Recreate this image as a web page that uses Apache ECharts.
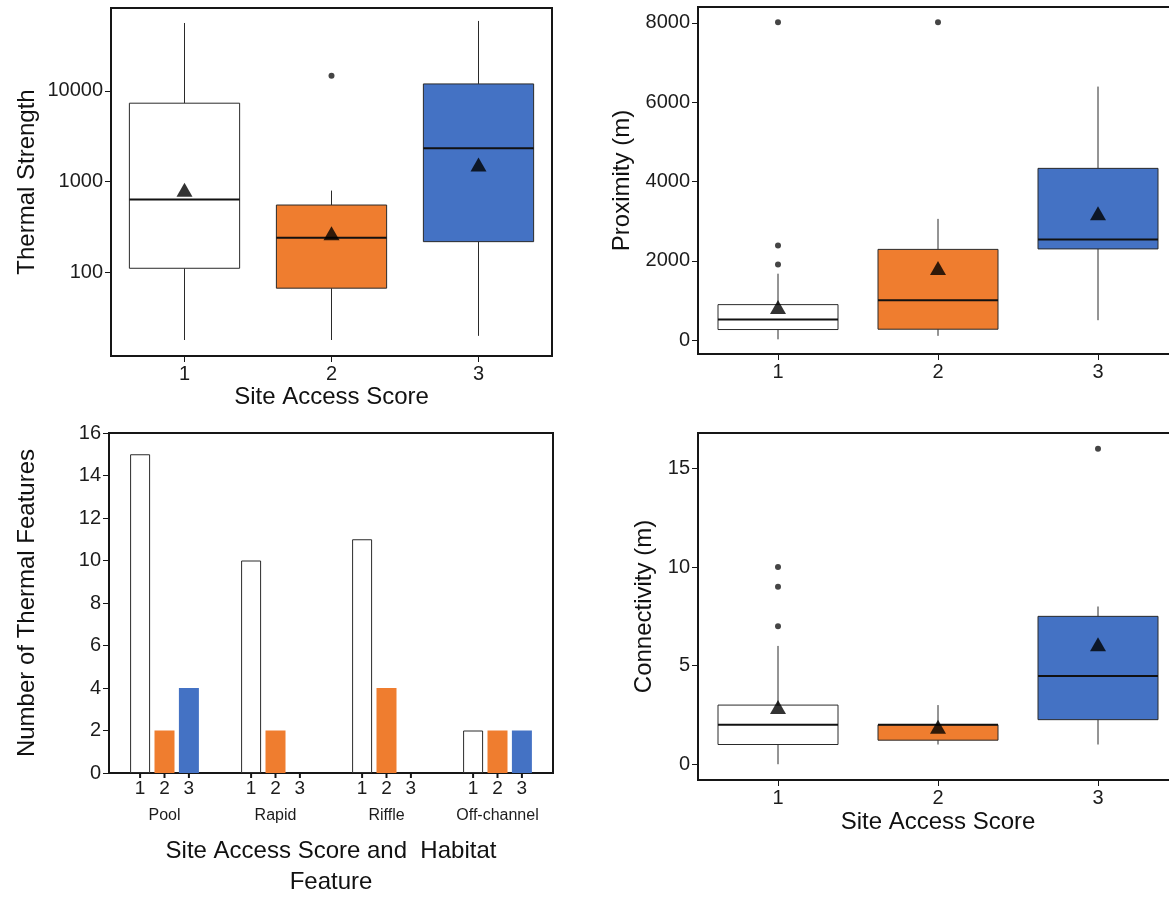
<!DOCTYPE html>
<html>
<head>
<meta charset="utf-8">
<script src="https://cdn.jsdelivr.net/npm/echarts@6/dist/echarts.min.js"></script>
<style>
  html, body { margin: 0; padding: 0; background: #ffffff; }
  #chart { width: 1169px; height: 897px; }
</style>
</head>
<body>
<div id="chart"></div>
<script>
// Site access scores shared by the three box plots
const accessScores = ['1', '2', '3'];

// Box statistics per score: [lower whisker, Q1, median, Q3, upper whisker]
const thermalBoxes = [
  [18, 111, 633, 7300, 55800],
  [18, 67, 241, 552, 796],
  [20, 218, 2330, 11900, 58800]
];
const thermalMeans = [815, 269, 1540];
const thermalOutliers = [[1, 14600]];           // [score index, value]
const thermalTicks = [100, 1000, 10000];

const proximityBoxes = [
  [20, 267, 520, 895, 1675],
  [108, 275, 1004, 2288, 3057],
  [502, 2300, 2537, 4331, 6393]
];
const proximityMeans = [837, 1820, 3200];
const proximityOutliers = [[0, 1909], [0, 2388], [0, 8018], [1, 8018]];
const proximityTicks = [0, 2000, 4000, 6000, 8000];

const connectivityBoxes = [
  [0, 1, 2, 3, 6],
  [1, 1.22, 2, 2, 3],
  [1, 2.26, 4.48, 7.5, 8]
];
const connectivityMeans = [2.9, 1.9, 6.09];
const connectivityOutliers = [[0, 7], [0, 9], [0, 10], [2, 16]];
const connectivityTicks = [0, 5, 10, 15];

// Number of thermal features by habitat, one array per access score
const habitats = ['Pool', 'Rapid', 'Riffle', 'Off-channel'];
const countsScore1 = [15, 10, 11, 2];
const countsScore2 = [2, 2, 4, 2];
const countsScore3 = [4, 0, 0, 2];

// Styling
const FONT = '"Liberation Sans", Arial, sans-serif';
const INK = '#161616';
const scoreFills = ['#ffffff', '#EF7D2F', '#4472C4'];

const chart = echarts.init(document.getElementById('chart'), null, { renderer: 'canvas' });

// Draws one box: whiskers, filled Q1–Q3 rectangle and a heavier median line
function renderBox(params, api) {
  const idx = api.value(0);
  const lo = api.coord([idx, api.value(1)]);
  const q1 = api.coord([idx, api.value(2)]);
  const md = api.coord([idx, api.value(3)]);
  const q3 = api.coord([idx, api.value(4)]);
  const hi = api.coord([idx, api.value(5)]);
  const half = api.size([1, 0], [idx, api.value(3)])[0] * 0.375;
  const x = md[0];
  const thin = { stroke: '#2a2a2a', lineWidth: 1 };
  return {
    type: 'group',
    children: [
      { type: 'line', shape: { x1: x, y1: hi[1], x2: x, y2: q3[1] }, style: thin },
      { type: 'line', shape: { x1: x, y1: q1[1], x2: x, y2: lo[1] }, style: thin },
      { type: 'rect',
        shape: { x: x - half, y: q3[1], width: half * 2, height: q1[1] - q3[1] },
        style: { fill: scoreFills[idx], stroke: '#2a2a2a', lineWidth: 1 } },
      { type: 'line', shape: { x1: x - half, y1: md[1], x2: x + half, y2: md[1] },
        style: { stroke: '#111111', lineWidth: 2 } }
    ]
  };
}

function boxData(boxes) {
  return boxes.map((b, i) => [i].concat(b));
}
function meanData(means) {
  return means.map((m, i) => [i, m]);
}

function boxSeries(axisIdx, boxes, means, outliers) {
  return [
    { type: 'custom', xAxisIndex: axisIdx, yAxisIndex: axisIdx,
      renderItem: renderBox, encode: { x: 0, y: [1, 2, 3, 4, 5] },
      data: boxData(boxes), z: 2, silent: true },
    { type: 'scatter', xAxisIndex: axisIdx, yAxisIndex: axisIdx,
      symbol: 'circle', symbolSize: 6, itemStyle: { color: INK },
      data: outliers, z: 3, silent: true },
    { type: 'scatter', xAxisIndex: axisIdx, yAxisIndex: axisIdx,
      symbol: 'triangle', symbolSize: [16, 14], itemStyle: { color: '#000000' },
      data: meanData(means), z: 4, silent: true }
  ];
}

const gridFrame = {
  show: true, borderColor: INK, borderWidth: 2, backgroundColor: 'transparent',
  outerBoundsMode: 'none', containLabel: false
};

const tickStyle = { show: true, length: 6, lineStyle: { color: INK, width: 1 } };
const labelStyle = { color: '#1c1c1c', fontSize: 20, fontFamily: FONT };
const nameStyle = { color: '#111111', fontSize: 24, fontFamily: FONT };

function scoreAxis(gridIndex, name, gap) {
  return {
    type: 'category', gridIndex: gridIndex, data: accessScores,
    boundaryGap: true,
    axisLine: { show: false, onZero: false },
    axisTick: Object.assign({ alignWithLabel: true }, tickStyle),
    axisLabel: Object.assign({ margin: 8 }, labelStyle),
    splitLine: { show: false },
    name: name, nameLocation: 'middle', nameGap: gap, nameTextStyle: nameStyle
  };
}

function valueAxis(gridIndex, opts, ticks, name, gap) {
  return Object.assign({
    gridIndex: gridIndex,
    axisLine: { show: false, onZero: false },
    axisTick: Object.assign({ customValues: ticks }, tickStyle),
    axisLabel: Object.assign({
      margin: 8, customValues: ticks,
      formatter: v => String(Math.round(v))
    }, labelStyle),
    splitLine: { show: false },
    minorTick: { show: false },
    name: name, nameLocation: 'middle', nameGap: gap, nameTextStyle: nameStyle
  }, opts);
}

// Tick mark plus score digit printed under every bar
function barLabel() {
  return {
    show: true, position: 'bottom', distance: 0,
    formatter: p => '{t| }\n{n|' + p.seriesName + '}',
    rich: {
      t: { width: 2, height: 5, lineHeight: 5, fontSize: 5, backgroundColor: INK },
      n: { fontSize: 19, lineHeight: 21, color: '#1c1c1c', fontFamily: FONT }
    }
  };
}

const option = {
  animation: false,
  backgroundColor: '#ffffff',
  textStyle: { fontFamily: FONT },
  grid: [
    Object.assign({ left: 111, top: 8, width: 441, height: 348 }, gridFrame),
    Object.assign({ left: 698, top: 7, width: 480, height: 347 }, gridFrame),
    Object.assign({ left: 109, top: 433, width: 444, height: 340 }, gridFrame),
    Object.assign({ left: 698, top: 433, width: 480, height: 347 }, gridFrame)
  ],
  xAxis: [
    scoreAxis(0, 'Site Access Score', 28),
    scoreAxis(1, '', 0),
    {
      type: 'category', gridIndex: 2, data: habitats, boundaryGap: true,
      axisLine: { show: false, onZero: false },
      axisTick: { show: false },
      axisLabel: { margin: 35, color: '#1c1c1c', fontSize: 16, fontFamily: FONT },
      splitLine: { show: false },
      name: 'Site Access Score and  Habitat\nFeature',
      nameLocation: 'middle', nameGap: 63,
      nameTextStyle: Object.assign({ lineHeight: 31 }, nameStyle)
    },
    scoreAxis(3, 'Site Access Score', 30)
  ],
  yAxis: [
    valueAxis(0, { type: 'log', logBase: 10, min: 12, max: 81600 }, thermalTicks, 'Thermal Strength', 72),
    valueAxis(1, { type: 'value', min: -350, max: 8400 }, proximityTicks, 'Proximity (m)', 64),
    {
      type: 'value', gridIndex: 2, min: 0, max: 16, interval: 2,
      axisLine: { show: false, onZero: false },
      axisTick: tickStyle,
      axisLabel: Object.assign({ margin: 8 }, labelStyle),
      splitLine: { show: false },
      name: 'Number of Thermal Features', nameLocation: 'middle', nameGap: 70,
      nameTextStyle: nameStyle
    },
    valueAxis(3, { type: 'value', min: -0.8, max: 16.8 }, connectivityTicks, 'Connectivity (m)', 42)
  ],
  series: [].concat(
    boxSeries(0, thermalBoxes, thermalMeans, thermalOutliers),
    boxSeries(1, proximityBoxes, proximityMeans, proximityOutliers),
    boxSeries(3, connectivityBoxes, connectivityMeans, connectivityOutliers),
    [
      { name: '1', type: 'bar', xAxisIndex: 2, yAxisIndex: 2, data: countsScore1,
        barWidth: 20, barGap: '22%',
        itemStyle: { color: scoreFills[0], borderColor: '#2a2a2a', borderWidth: 1 },
        label: barLabel(), silent: true },
      { name: '2', type: 'bar', xAxisIndex: 2, yAxisIndex: 2, data: countsScore2,
        barWidth: 20, barGap: '22%',
        itemStyle: { color: scoreFills[1] },
        label: barLabel(), silent: true },
      { name: '3', type: 'bar', xAxisIndex: 2, yAxisIndex: 2, data: countsScore3,
        barWidth: 20, barGap: '22%',
        itemStyle: { color: scoreFills[2] },
        label: barLabel(), silent: true }
    ]
  )
};

chart.setOption(option);
</script>
</body>
</html>
